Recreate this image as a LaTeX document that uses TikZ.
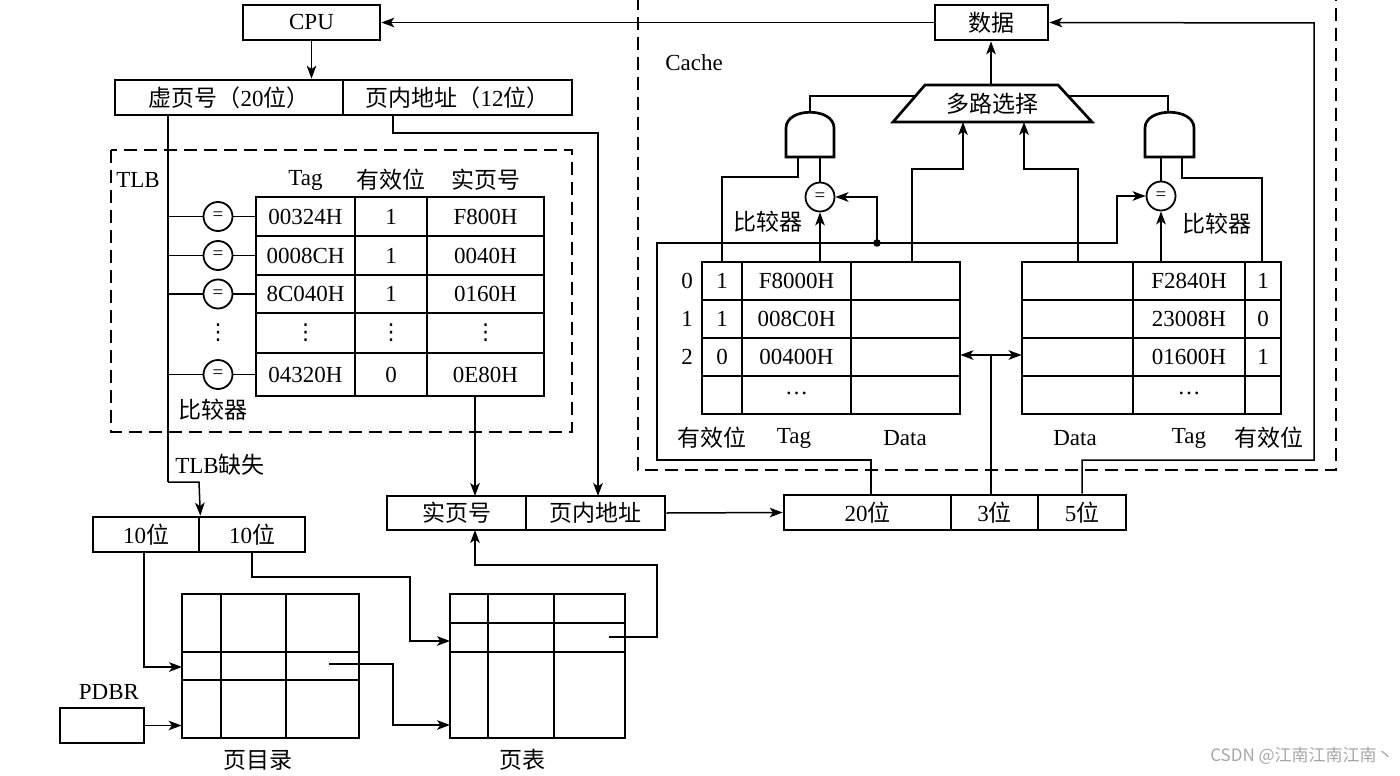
\documentclass[tikz,border=0pt]{standalone}
\usepackage{fontspec}
\setmainfont{Liberation Serif}
\newfontfamily\cjkfont{Noto Sans CJK SC}
\newfontfamily\symfont{DejaVu Sans}
\newcommand{\zh}[1]{{\cjkfont #1}}
\usetikzlibrary{arrows.meta,fit,calc}
\begin{document}
\begin{tikzpicture}[x=0.5pt,y=-0.5pt,line join=miter,
  every node/.style={font=\fontsize{11.5}{13}\selectfont},
  box/.style={draw,line width=1.35pt,inner sep=0pt},
  grid/.style={line width=1.35pt},
  conn/.style={line width=0.75pt},
  arr/.style={conn,-{Stealth[length=6.5pt,width=4.8pt,inset=1.7pt]}},
  biarr/.style={conn,{Stealth[length=6.5pt,width=4.8pt,inset=1.7pt]}-{Stealth[length=6.5pt,width=4.8pt,inset=1.7pt]}},
  dashbox/.style={line width=1.3pt,dash pattern=on 6.5pt off 3.5pt},
  cmp/.style={circle,draw,line width=0.9pt,minimum size=14.5pt,inner sep=0pt,font=\fontsize{9.5}{9.5}\selectfont},
  dots/.style={inner sep=0pt,font=\fontsize{11}{11}\selectfont\symfont},
  gate/.style={line width=1.35pt}]
\useasboundingbox (0,0) rectangle (1400,775);

% ---------- top boxes ----------
\node[box,fit={(243,5)(380,40)}] (cpu) {};
\node (cpuT) at (cpu.center) {CPU};
\node[box,fit={(935,5)(1048,40)}] (data) {};
\node (dataT) at (data.center) {\zh{数据}};
\draw[arr] (data.west) -- (cpu.east);

\node[box,fit={(115,80)(343,115)}] (vpn) {};
\node (vpnT) at (vpn.center) {\zh{虚页号（}20\zh{位）}};
\node[box,fit={(343,80)(572,115)}] (off) {};
\node (offT) at (off.center) {\zh{页内地址（}12\zh{位）}};
\draw[arr] (cpu.south) -- (cpu.south |- vpn.north);

% ---------- TLB ----------
\draw[dashbox] (111,150) rectangle (572,432);
\node (tlblbl) at (138,180) {TLB};
\node (hTag) at (305.5,180) {Tag};
\node (hValid) at (391,180) {\zh{有效位}};
\node (hPpn) at (485.5,180) {\zh{实页号}};
\node[fit={(256,197)(544,396)},inner sep=0pt] (tlb) {};
\draw[grid] (256,197) rectangle (544,396);
\foreach \y in {236,275,313,353} \draw[grid] (256,\y) -- (544,\y);
\foreach \x in {355,427} \draw[grid] (\x,197) -- (\x,396);
\coordinate (bustop) at (168,115);
\coordinate (busbot) at (168,482);
\draw[conn] (bustop) -- (busbot);
\foreach \yy/\a/\b/\c/\n in {216.5/00324H/1/F800H/1,255.5/0008CH/1/0040H/2,294/8C040H/1/0160H/3,374.5/04320H/0/0E80H/5}{
  \node (tg\n) at (305.5,\yy) {\a};
  \node (tv\n) at (391,\yy) {\b};
  \node (tp\n) at (485.5,\yy) {\c};
  \node[cmp] (c\n) at (218,\yy) {=};
  \draw[conn] (168,\yy) -- (c\n.west);
  \draw[conn] (c\n.east) -- (256,\yy);
}
\node[dots] (d0) at (218,333) {⋮};
\node[dots] (d1) at (305.5,333) {⋮};
\node[dots] (d2) at (391,333) {⋮};
\node[dots] (d3) at (485.5,333) {⋮};
\node (tlbcmp) at (213,410) {\zh{比较器}};

% ---------- physical address (TLB) ----------
\node[box,fit={(387,496)(526,530)}] (ppn) {};
\node (ppnT) at (ppn.center) {\zh{实页号}};
\node[box,fit={(526,496)(665,530)}] (poff) {};
\node (poffT) at (poff.center) {\zh{页内地址}};
\draw[arr] (475,396) -- (475,496);
\coordinate (o1) at (393,115);
\draw[arr] (o1) -- (393,133) -- (598,133) -- (598,496);

% ---------- TLB miss ----------
\node (miss) at (220,465) {TLB\zh{缺失}};
\node[box,fit={(93,517)(199,552)}] (ten1) {};
\node (ten1T) at (ten1.center) {10\zh{位}};
\node[box,fit={(199,517)(305,552)}] (ten2) {};
\node (ten2T) at (ten2.center) {10\zh{位}};
\draw[arr] (busbot) -- (199,482) -- (ten1.north east);

% page directory
\node[fit={(182,594)(359,738)},inner sep=0pt] (pdir) {};
\draw[grid] (182,594) rectangle (359,738);
\draw[grid] (221,594) -- (221,738) (286,594) -- (286,738)
            (182,652) -- (359,652) (182,680) -- (359,680);
\node (pdirlbl) at (258,760) {\zh{页目录}};
% page table
\node[fit={(450,594)(625,738)},inner sep=0pt] (ptab) {};
\draw[grid] (450,594) rectangle (625,738);
\draw[grid] (488,594) -- (488,738) (554,594) -- (554,738)
            (450,623) -- (625,623) (450,652) -- (625,652);
\node (ptablbl) at (522,760) {\zh{页表}};
% PDBR
\node[box,fit={(60,708)(144,743)}] (pdbr) {};
\node (pdbrlbl) at (109,692) {PDBR};
\draw[arr] (pdbr.east) -- (pdbr.east -| pdir.west);
\draw[arr] (144,552) -- (144,667) -- (182,667);
\draw[arr] (252,552) -- (252,577) -- (410,577) -- (410,641) -- (450,641);
\coordinate (pde) at (329,664);
\draw[arr] (pde) -- (393,664) -- (393,725) -- (450,725);
\coordinate (pte) at (609,637);
\draw[arr] (pte) -- (657,637) -- (657,565) -- (475,565) -- (475,530);

% ---------- cache address ----------
\node[box,fit={(784,495)(951,530)}] (b20) {};
\node (b20T) at (b20.center) {20\zh{位}};
\node[box,fit={(951,495)(1038,530)}] (b3) {};
\node (b3T) at (b3.center) {3\zh{位}};
\node[box,fit={(1038,495)(1126,530)}] (b5) {};
\node (b5T) at (b5.center) {5\zh{位}};
\draw[arr] (poff.east) -- (b20.west);

% ---------- Cache ----------
\draw[dashbox] (638,-3) -- (638,470) -- (1336,470) -- (1336,-3);
\node (cachelbl) at (694,63) {Cache};

% mux
\draw[gate] (893,122) -- (925,85) -- (1058,85) -- (1092,122) -- cycle;
\node (mux) at (992,104) {\zh{多路选择}};
\draw[arr] (991,85) -- (data.south -| 991,0);

% AND gates
\draw[gate] (786,157) -- (786,128) .. controls (786,107) and (834,107) .. (834,128) -- (834,157) -- cycle;
\draw[gate] (1145,157) -- (1145,128) .. controls (1145,107) and (1194,107) .. (1194,128) -- (1194,157) -- cycle;
\draw[conn] (915.5,96) -- (810,96) -- (810,112);
\draw[conn] (1068,96) -- (1168,96) -- (1168,112);

% comparators
\node[cmp] (lc) at (820,197) {=};
\node[cmp] (rc) at (1161,196) {=};
\node (lcmp) at (768,222) {\zh{比较器}};
\node (rcmp) at (1217,224) {\zh{比较器}};
\draw[conn] (820,157) -- (lc.north);
\draw[conn] (1161,157) -- (rc.north);
\draw[conn] (798,157) -- (798,177) -- (722,177) -- (722,262);
\draw[conn] (1182,157) -- (1182,178) -- (1262,178) -- (1262,262);
\draw[arr] (820,262) -- (lc.south);
\draw[arr] (1161,262) -- (rc.south);

% tag bus
\coordinate (dot) at (877,243);
\fill (dot) circle[radius=3.8];
\draw[arr] (b20.north -| 871,0) -- (871,460) -- (657,460) -- (657,243) -- (1117,243) -- (1117,196) -- (rc.west);
\draw[arr] (dot) -- (877,197) -- (lc.east);
\draw[arr] (b5.north) -- (1082,460) -- (1314,460) -- (1314,23) -- (data.east);

% data to mux
\draw[arr] (912,262) -- (912,169) -- (963,169) -- (963,122);
\draw[arr] (1078,262) -- (1078,169) -- (1024,169) -- (1024,122);

% left cache table
\node[fit={(702,262)(960,414)},inner sep=0pt] (lt) {};
\draw[grid] (702,262) rectangle (960,414);
\draw[grid] (742,262) -- (742,414) (851,262) -- (851,414)
            (702,300) -- (960,300) (702,338) -- (960,338) (702,376) -- (960,376);
% right cache table
\node[fit={(1022,262)(1281,414)},inner sep=0pt] (rt) {};
\draw[grid] (1022,262) rectangle (1281,414);
\draw[grid] (1133,262) -- (1133,414) (1245,262) -- (1245,414)
            (1022,300) -- (1281,300) (1022,338) -- (1281,338) (1022,376) -- (1281,376);
\foreach \yy/\i/\lv/\lt/\rtg/\rv/\n in {281/0/1/F8000H/F2840H/1/a,319/1/1/008C0H/23008H/0/b,357/2/0/00400H/01600H/1/c}{
  \node (idx\n) at (687,\yy) {\i};
  \node (lv\n) at (722,\yy) {\lv};
  \node (ltg\n) at (796.5,\yy) {\lt};
  \node (rtg\n) at (1189,\yy) {\rtg};
  \node (rv\n) at (1263,\yy) {\rv};
}
\node (lell) at (796.5,393) {\ldots};
\node (rell) at (1189,393) {\ldots};
\draw[biarr] (lt.east |- 0,355) -- (rt.west |- 0,355);
\draw[conn] (991,355) -- (b3.north -| 991,0);
\node (l1) at (712,438) {\zh{有效位}};
\node (l2) at (794,438) {Tag};
\node (l3) at (905,438) {Data};
\node (l4) at (1075,438) {Data};
\node (l5) at (1189,438) {Tag};
\node (l6) at (1269,438) {\zh{有效位}};

% watermark
\node[text=black!35,font=\fontsize{8.5}{10}\selectfont\cjkfont,inner sep=0pt] (wm) at (1302,756) {CSDN @江南江南江南丶};
\end{tikzpicture}
\end{document}
